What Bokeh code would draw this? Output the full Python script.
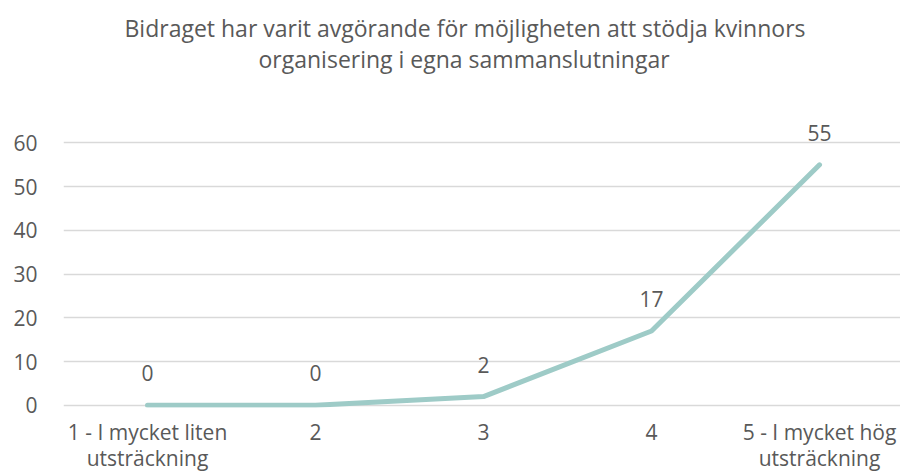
from bokeh.plotting import figure
from bokeh.models import ColumnDataSource, FixedTicker, Range1d, Title
from bokeh.core.properties import value
from bokeh.embed import file_html
from bokeh.resources import INLINE

categories = ["1 - I mycket liten\nutsträckning", "2", "3", "4", "5 - I mycket hög\nutsträckning"]
positions = [1, 2, 3, 4, 5]
values = [0, 0, 2, 17, 55]
y_ticks = [0, 10, 20, 30, 40, 50, 60]
title_line1 = "Bidraget har varit avgörande för möjligheten att stödja kvinnors"
title_line2 = "organisering i egna sammanslutningar"

FONT = "Open Sans"
GREY = "#595959"
LINE = "#9ECBC7"

p = figure(width=900, height=475, output_backend="svg", toolbar_location=None,
           x_range=Range1d(0.5, 5.482), y_range=Range1d(-0.5, 78.4),
           min_border_left=63, min_border_right=0, min_border_bottom=68, min_border_top=0)
p.outline_line_color = None
p.background_fill_color = "white"
p.border_fill_color = "white"

t2 = Title(text=title_line2, align="left", offset=195, text_font=FONT, text_font_size="23px",
           text_color=GREY, text_font_style="normal", standoff=-25)
p.add_layout(t2, "above")
t1 = Title(text=title_line1, align="left", offset=61, text_font=FONT, text_font_size="23px",
           text_color=GREY, text_font_style="normal", standoff=19)
p.add_layout(t1, "above")

src = ColumnDataSource(dict(x=positions, y=values, label=[str(v) for v in values]))
p.line(x="x", y="y", source=src, line_color=LINE, line_width=5, line_cap="round",
       line_join="round")
p.text(x="x", y="y", text="label", source=src, text_align="center", text_baseline="middle",
       y_offset=-32, text_font=value(FONT), text_font_size="21px", text_color=GREY)

p.xgrid.grid_line_color = None
p.ygrid.grid_line_color = "#D9D9D9"
p.ygrid.grid_line_width = 1.3
p.yaxis.ticker = FixedTicker(ticks=y_ticks)
p.xaxis.ticker = FixedTicker(ticks=positions)
p.xaxis.major_label_overrides = {pos: lab for pos, lab in zip(positions, categories)}

for ax in (p.xaxis, p.yaxis):
    ax.axis_line_color = None
    ax.major_tick_line_color = None
    ax.minor_tick_line_color = None
    ax.major_label_text_font = FONT
    ax.major_label_text_font_size = "21px"
    ax.major_label_text_color = GREY
p.xaxis.major_label_text_line_height = 0.95
p.yaxis.major_label_standoff = 20
p.xaxis.major_label_standoff = 4

open("out.html", "w").write(file_html(p, INLINE))
